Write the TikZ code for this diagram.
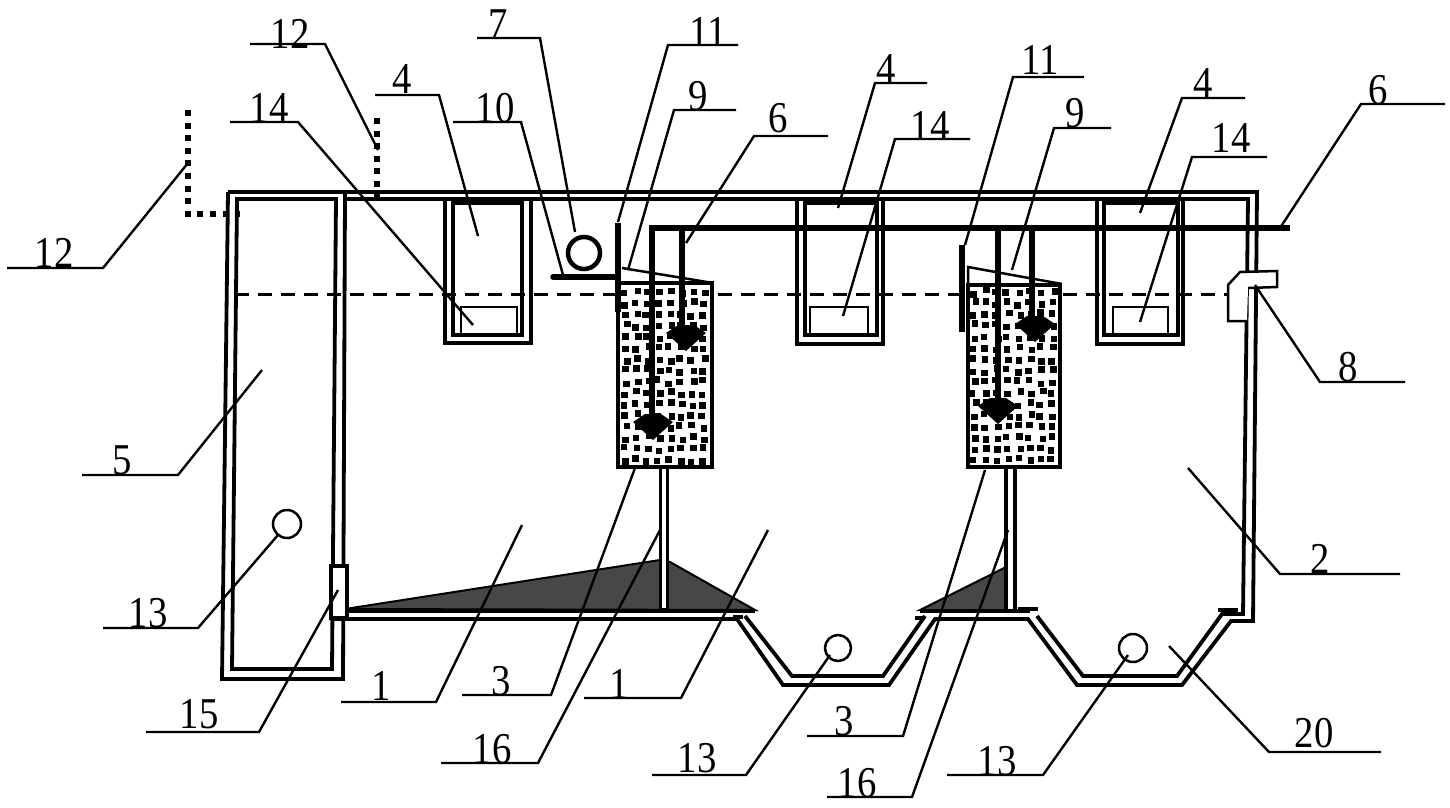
\documentclass[tikz,border=0pt]{standalone}
\usepackage{fontspec}
\setmainfont[FakeStretch=0.88]{Liberation Serif}
\tikzset{
  wall/.style={color=black, line width=3.8pt, line join=miter},
  pipe/.style={color=black, line width=5.5pt},
  leader/.style={color=black, line width=2.4pt},
  numlabel/.style={anchor=base, inner sep=0pt, font=\fontsize{44}{46}\selectfont},
  dotted pipe/.style={color=black, line width=6pt, dash pattern=on 6pt off 6.6pt},
  sediment/.style={draw=black, line width=2pt, fill=black!72},
  diffuser/.pic={\fill[color=black] (-20pt,-1pt) -- (-8pt,7pt) -- (8pt,7pt) -- (20pt,-1pt) -- (0pt,-19pt) -- cycle;}
}
\begin{document}
\begin{tikzpicture}
\useasboundingbox (0pt,0pt) rectangle (1450pt,-807pt);
% sediment
\draw[sediment] (345pt,-609pt) -- (660pt,-560pt) -- (670pt,-562pt) -- (755pt,-610pt) -- cycle;
\draw[sediment] (920pt,-610pt) -- (1006pt,-567pt) -- (1006pt,-610pt) -- cycle;
% walls of the tank
\draw[wall] (228pt,-192pt) -- (1257pt,-192pt) -- (1253pt,-621pt) -- (1231pt,-621pt) -- (1182pt,-685pt) -- (1077pt,-685pt) -- (1028pt,-619pt) -- (935pt,-619pt) -- (889pt,-685pt) -- (783pt,-685pt) -- (737pt,-619pt) -- (330pt,-619pt);
\draw[wall] (345pt,-199pt) -- (1248pt,-199pt) -- (1243pt,-614pt) -- (1222pt,-614pt) -- (1177pt,-676pt) -- (1083pt,-676pt) -- (1037pt,-616pt);
\draw[wall] (925pt,-616pt) -- (883pt,-676pt) -- (792pt,-676pt) -- (745pt,-616pt);
\draw[wall] (345pt,-611pt) -- (755pt,-611pt);
\draw[wall] (920pt,-611pt) -- (1030pt,-611pt);
\draw[wall] (1018pt,-609pt) -- (1038pt,-609pt);
\draw[wall] (1218pt,-610pt) -- (1238pt,-610pt);
\draw[wall] (733pt,-617pt) -- (743pt,-617pt);
\draw[wall] (915pt,-618pt) -- (925pt,-618pt);
% tank 5
\draw[wall] (345pt,-192pt) -- (343pt,-679pt) -- (222pt,-679pt) -- (228pt,-192pt);
\draw[wall] (237pt,-199pt) -- (336pt,-199pt) -- (332pt,-669pt) -- (232pt,-669pt) -- cycle;
\draw[color=black, line width=4pt, fill=white] (331pt,-566pt) rectangle (347pt,-618pt);
% level
\draw[color=black, line width=3pt, dash pattern=on 14pt off 9pt] (235pt,-294pt) -- (1240pt,-294pt);
% tanks 4 and 14
\draw[wall] (445pt,-199pt) -- (445pt,-343pt) -- (531pt,-343pt) -- (531pt,-199pt);
\draw[wall] (453pt,-203pt) rectangle (522pt,-335pt);
\draw[color=black, line width=2.5pt] (461pt,-335pt) rectangle (517pt,-307pt);
\draw[wall] (797pt,-199pt) -- (797pt,-344pt) -- (883pt,-344pt) -- (883pt,-199pt);
\draw[wall] (805pt,-203pt) rectangle (877pt,-335pt);
\draw[color=black, line width=2.5pt] (810pt,-335pt) rectangle (868pt,-307pt);
\draw[wall] (1097pt,-199pt) -- (1097pt,-344pt) -- (1183pt,-344pt) -- (1183pt,-199pt);
\draw[wall] (1104pt,-203pt) rectangle (1178pt,-335pt);
\draw[color=black, line width=2.5pt] (1113pt,-335pt) rectangle (1168pt,-307pt);
% filters
\draw[color=black, line width=3.5pt, fill=white] (618pt,-283pt) rectangle (712pt,-467pt);
\draw[color=black, line width=3.5pt, fill=white] (968pt,-285pt) rectangle (1060pt,-467pt);
\pgfmathsetseed{12}
\foreach \boxx in {622,971} {
  \foreach \colx in {0,...,7} {
    \foreach \rowy in {0,...,15} {
      \pgfmathsetmacro{\dotx}{\boxx+11.2*\colx+2.2*rand}
      \pgfmathsetmacro{\doty}{289+11.2*\rowy+2.2*rand}
      \fill[color=black] (\dotx pt,-\doty pt) rectangle +(6.5pt,-6.5pt);
    }
  }
}
\draw[color=black, line width=2.5pt] (622pt,-268pt) -- (713pt,-283pt);
\draw[color=black, line width=2.5pt] (968pt,-285pt) -- (968pt,-267pt) -- (1062pt,-284pt);
% pipes 16
\draw[color=black, line width=3pt, fill=white] (660pt,-467pt) rectangle (667pt,-609pt);
\draw[color=black, line width=3.5pt] (1006pt,-467pt) -- (1006pt,-610pt);
\draw[color=black, line width=4pt] (1015pt,-467pt) -- (1015pt,-610pt);
% pipes 6
\draw[pipe] (652pt,-422pt) -- (652pt,-228pt) -- (1290pt,-228pt);
\draw[pipe] (682pt,-228pt) -- (682pt,-335pt);
\draw[pipe] (998pt,-228pt) -- (998pt,-405pt);
\draw[pipe] (1032pt,-228pt) -- (1032pt,-325pt);
\pic at (653pt,-421pt) {diffuser};
\pic at (686pt,-332pt) {diffuser};
\pic at (998pt,-405pt) {diffuser};
\pic at (1035pt,-323pt) {diffuser};
% pipes 10 and 11
\draw[pipe, line cap=round] (553pt,-277pt) -- (618pt,-277pt);
\draw[pipe] (618pt,-223pt) -- (618pt,-312pt);
\draw[pipe] (962pt,-245pt) -- (962pt,-332pt);
% blower 7 and circles 13
\draw[color=black, line width=4.5pt] (584pt,-253pt) circle (16pt);
\draw[color=black, line width=2.5pt, fill=white] (287pt,-524pt) circle (14pt);
\draw[color=black, line width=2.5pt, fill=white] (838pt,-648pt) circle (13pt);
\draw[color=black, line width=2.5pt, fill=white] (1133pt,-648pt) circle (14pt);
% outlet 8
\draw[color=black, line width=2.5pt, fill=white] (1247pt,-321pt) -- (1228pt,-321pt) -- (1228pt,-285pt) -- (1240pt,-272pt) -- (1277pt,-271pt) -- (1277pt,-287pt) -- (1248pt,-288pt);
% dotted pipes 12
\draw[dotted pipe] (188pt,-110pt) -- (188pt,-214pt) -- (240pt,-214pt);
\draw[dotted pipe] (377pt,-118pt) -- (377pt,-197pt);
% labels and their leaders
\node[numlabel] (lab12a) at (54pt,-267pt) {12};
\coordinate (a12a) at (7pt,-268pt); \coordinate (b12a) at (103pt,-268pt); \coordinate (e12a) at (188pt,-163pt);
\draw[leader] (a12a) -- (b12a) -- (e12a);
\node[numlabel] (lab12b) at (290pt,-48pt) {12};
\coordinate (a12b) at (250pt,-44pt); \coordinate (b12b) at (325pt,-44pt); \coordinate (e12b) at (378pt,-150pt);
\draw[leader] (a12b) -- (b12b) -- (e12b);
\node[numlabel] (lab14a) at (269pt,-122pt) {14};
\coordinate (a14a) at (230pt,-122pt); \coordinate (b14a) at (298pt,-122pt); \coordinate (e14a) at (473pt,-325pt);
\draw[leader] (a14a) -- (b14a) -- (e14a);
\node[numlabel] (lab4a) at (402pt,-93pt) {4};
\coordinate (a4a) at (375pt,-95pt); \coordinate (b4a) at (439pt,-95pt); \coordinate (e4a) at (478pt,-236pt);
\draw[leader] (a4a) -- (b4a) -- (e4a);
\node[numlabel] (lab10) at (495pt,-122pt) {10};
\coordinate (a10) at (453pt,-122pt); \coordinate (b10) at (521pt,-122pt); \coordinate (e10) at (563pt,-275pt);
\draw[leader] (a10) -- (b10) -- (e10);
\node[numlabel] (lab7) at (498pt,-38pt) {7};
\coordinate (a7) at (477pt,-38pt); \coordinate (b7) at (540pt,-38pt); \coordinate (e7) at (575pt,-232pt);
\draw[leader] (a7) -- (b7) -- (e7);
\node[numlabel] (lab11a) at (708pt,-46pt) {11};
\coordinate (a11a) at (738pt,-45pt); \coordinate (b11a) at (668pt,-45pt); \coordinate (e11a) at (618pt,-222pt);
\draw[leader] (a11a) -- (b11a) -- (e11a);
\node[numlabel] (lab9a) at (698pt,-110pt) {9};
\coordinate (a9a) at (736pt,-110pt); \coordinate (b9a) at (674pt,-110pt); \coordinate (e9a) at (628pt,-270pt);
\draw[leader] (a9a) -- (b9a) -- (e9a);
\node[numlabel] (lab6a) at (778pt,-132pt) {6};
\coordinate (a6a) at (828pt,-136pt); \coordinate (b6a) at (754pt,-136pt); \coordinate (e6a) at (686pt,-243pt);
\draw[leader] (a6a) -- (b6a) -- (e6a);
\node[numlabel] (lab4b) at (886pt,-83pt) {4};
\coordinate (a4b) at (927pt,-83pt); \coordinate (b4b) at (875pt,-83pt); \coordinate (e4b) at (838pt,-208pt);
\draw[leader] (a4b) -- (b4b) -- (e4b);
\node[numlabel] (lab14b) at (930pt,-140pt) {14};
\coordinate (a14b) at (970pt,-139pt); \coordinate (b14b) at (895pt,-139pt); \coordinate (e14b) at (843pt,-316pt);
\draw[leader] (a14b) -- (b14b) -- (e14b);
\node[numlabel] (lab11b) at (1040pt,-74pt) {11};
\coordinate (a11b) at (1084pt,-77pt); \coordinate (b11b) at (1013pt,-77pt); \coordinate (e11b) at (965pt,-245pt);
\draw[leader] (a11b) -- (b11b) -- (e11b);
\node[numlabel] (lab9b) at (1075pt,-127pt) {9};
\coordinate (a9b) at (1111pt,-128pt); \coordinate (b9b) at (1054pt,-128pt); \coordinate (e9b) at (1012pt,-270pt);
\draw[leader] (a9b) -- (b9b) -- (e9b);
\node[numlabel] (lab4c) at (1203pt,-97pt) {4};
\coordinate (a4c) at (1245pt,-98pt); \coordinate (b4c) at (1182pt,-98pt); \coordinate (e4c) at (1140pt,-213pt);
\draw[leader] (a4c) -- (b4c) -- (e4c);
\node[numlabel] (lab14c) at (1231pt,-152pt) {14};
\coordinate (a14c) at (1267pt,-157pt); \coordinate (b14c) at (1192pt,-157pt); \coordinate (e14c) at (1140pt,-322pt);
\draw[leader] (a14c) -- (b14c) -- (e14c);
\node[numlabel] (lab6b) at (1378pt,-104pt) {6};
\coordinate (a6b) at (1445pt,-104pt); \coordinate (b6b) at (1361pt,-104pt); \coordinate (e6b) at (1280pt,-228pt);
\draw[leader] (a6b) -- (b6b) -- (e6b);
\node[numlabel] (lab8) at (1348pt,-381pt) {8};
\coordinate (a8) at (1405pt,-382pt); \coordinate (b8) at (1320pt,-382pt); \coordinate (e8) at (1255pt,-285pt);
\draw[leader] (a8) -- (b8) -- (e8);
\node[numlabel] (lab5) at (122pt,-474pt) {5};
\coordinate (a5) at (82pt,-475pt); \coordinate (b5) at (178pt,-475pt); \coordinate (e5) at (262pt,-370pt);
\draw[leader] (a5) -- (b5) -- (e5);
\node[numlabel] (lab13a) at (148pt,-627pt) {13};
\coordinate (a13a) at (103pt,-628pt); \coordinate (b13a) at (198pt,-628pt); \coordinate (e13a) at (278pt,-535pt);
\draw[leader] (a13a) -- (b13a) -- (e13a);
\node[numlabel] (lab15) at (199pt,-728pt) {15};
\coordinate (a15) at (146pt,-732pt); \coordinate (b15) at (259pt,-732pt); \coordinate (e15) at (338pt,-590pt);
\draw[leader] (a15) -- (b15) -- (e15);
\node[numlabel] (lab1a) at (381pt,-700pt) {1};
\coordinate (a1a) at (341pt,-702pt); \coordinate (b1a) at (436pt,-702pt); \coordinate (e1a) at (522pt,-525pt);
\draw[leader] (a1a) -- (b1a) -- (e1a);
\node[numlabel] (lab3a) at (501pt,-695pt) {3};
\coordinate (a3a) at (462pt,-695pt); \coordinate (b3a) at (551pt,-695pt); \coordinate (e3a) at (635pt,-468pt);
\draw[leader] (a3a) -- (b3a) -- (e3a);
\node[numlabel] (lab16a) at (492pt,-763pt) {16};
\coordinate (a16a) at (441pt,-763pt); \coordinate (b16a) at (538pt,-763pt); \coordinate (e16a) at (660pt,-530pt);
\draw[leader] (a16a) -- (b16a) -- (e16a);
\node[numlabel] (lab1b) at (619pt,-698pt) {1};
\coordinate (a1b) at (584pt,-698pt); \coordinate (b1b) at (681pt,-698pt); \coordinate (e1b) at (768pt,-530pt);
\draw[leader] (a1b) -- (b1b) -- (e1b);
\node[numlabel] (lab13b) at (697pt,-772pt) {13};
\coordinate (a13b) at (652pt,-775pt); \coordinate (b13b) at (746pt,-775pt); \coordinate (e13b) at (830pt,-655pt);
\draw[leader] (a13b) -- (b13b) -- (e13b);
\node[numlabel] (lab3b) at (844pt,-735pt) {3};
\coordinate (a3b) at (807pt,-736pt); \coordinate (b3b) at (903pt,-736pt); \coordinate (e3b) at (985pt,-470pt);
\draw[leader] (a3b) -- (b3b) -- (e3b);
\node[numlabel] (lab16b) at (857pt,-797pt) {16};
\coordinate (a16b) at (827pt,-797pt); \coordinate (b16b) at (912pt,-797pt); \coordinate (e16b) at (1008pt,-530pt);
\draw[leader] (a16b) -- (b16b) -- (e16b);
\node[numlabel] (lab13c) at (997pt,-775pt) {13};
\coordinate (a13c) at (947pt,-775pt); \coordinate (b13c) at (1043pt,-775pt); \coordinate (e13c) at (1128pt,-655pt);
\draw[leader] (a13c) -- (b13c) -- (e13c);
\node[numlabel] (lab20) at (1314pt,-747pt) {20};
\coordinate (a20) at (1381pt,-752pt); \coordinate (b20) at (1269pt,-752pt); \coordinate (e20) at (1169pt,-646pt);
\draw[leader] (a20) -- (b20) -- (e20);
\node[numlabel] (lab2) at (1320pt,-573pt) {2};
\coordinate (a2) at (1400pt,-574pt); \coordinate (b2) at (1280pt,-574pt); \coordinate (e2) at (1188pt,-468pt);
\draw[leader] (a2) -- (b2) -- (e2);
\end{tikzpicture}
\end{document}
